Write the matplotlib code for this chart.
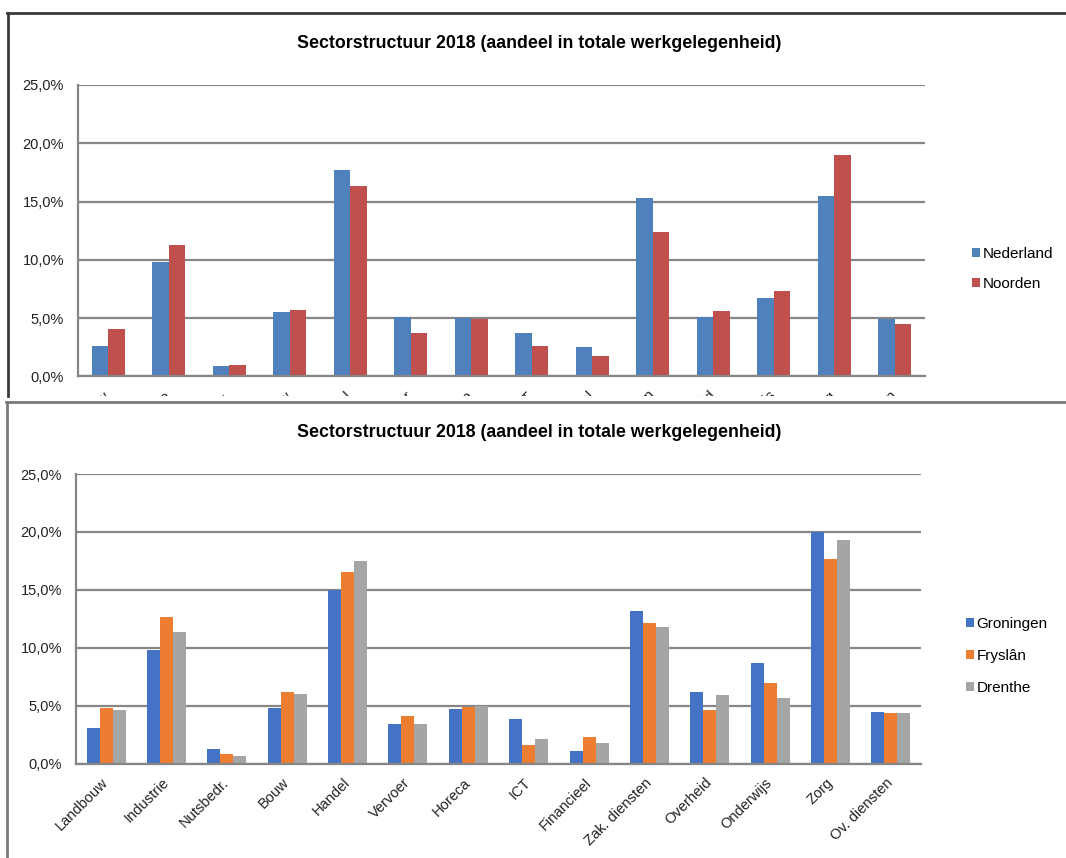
import numpy as np
import matplotlib
matplotlib.use("Agg")
import matplotlib.pyplot as plt
from matplotlib.lines import Line2D
from matplotlib.ticker import FuncFormatter, MultipleLocator
from matplotlib.transforms import Bbox, TransformedBbox

plt.rcParams['font.family'] = ['Liberation Sans', 'DejaVu Sans']

sectors = ["Landbouw", "Industrie", "Nutsbedr.", "Bouw", "Handel", "Vervoer",
           "Horeca", "ICT", "Financieel", "Zak. diensten", "Overheid",
           "Onderwijs", "Zorg", "Ov. diensten"]

# aandeel in totale werkgelegenheid (%)
nederland = [2.6, 9.8, 0.9, 5.5, 17.7, 5.1, 5.0, 3.7, 2.5, 15.3, 5.1, 6.7, 15.5, 4.9]
noorden = [4.1, 11.3, 1.0, 5.7, 16.3, 3.7, 4.9, 2.6, 1.8, 12.4, 5.6, 7.3, 19.0, 4.5]

groningen = [3.1, 9.8, 1.3, 4.8, 15.0, 3.4, 4.7, 3.9, 1.1, 13.2, 6.2, 8.7, 20.0, 4.5]
fryslan = [4.8, 12.7, 0.8, 6.2, 16.5, 4.1, 4.9, 1.6, 2.3, 12.1, 4.6, 7.0, 17.7, 4.4]
drenthe = [4.6, 11.4, 0.7, 6.0, 17.5, 3.4, 5.0, 2.1, 1.8, 11.8, 5.9, 5.7, 19.3, 4.4]

title = "Sectorstructuur 2018 (aandeel in totale werkgelegenheid)"

W, H = 1066, 858
fig = plt.figure(figsize=(W / 100, H / 100), dpi=100)


def px_axes(left, right, top, bottom):
    return fig.add_axes([left / W, 1 - bottom / H, (right - left) / W, (bottom - top) / H])


def pct(v, pos):
    return f"{v:.1f}%".replace(".", ",")


def style_axes(ax):
    ax.set_ylim(0, 25)
    ax.set_xlim(-0.5, len(sectors) - 0.5)
    ax.yaxis.set_major_locator(MultipleLocator(5))
    ax.yaxis.set_major_formatter(FuncFormatter(pct))
    ax.grid(axis="y", color="#868686", linewidth=1.6)
    ax.set_axisbelow(True)
    for s in ["top", "right"]:
        ax.spines[s].set_visible(False)
    for s in ["left", "bottom"]:
        ax.spines[s].set_color("#868686")
        ax.spines[s].set_linewidth(1.6)
    ax.tick_params(axis="both", length=0, labelsize=10.5, colors="#222222")
    ax.tick_params(axis="y", pad=10)
    ax.set_xticks(np.arange(len(sectors)))
    ax.set_xticklabels(sectors, rotation=45, ha="right", va="center",
                       rotation_mode="anchor")
    ax.tick_params(axis="x", pad=12)


def add_legend(ax, x_px, y_px, spacing):
    ax.legend(loc="center left", bbox_to_anchor=(x_px / W, 1 - y_px / H),
              bbox_transform=fig.transFigure, frameon=False, fontsize=11,
              handlelength=0.55, handleheight=0.55, handletextpad=0.15,
              labelspacing=spacing, borderaxespad=0, borderpad=0)


x = np.arange(len(sectors))

# bovenste grafiek: Nederland vs Noorden
ax1 = px_axes(78, 925, 85, 376.5)
bw = 0.275
ax1.bar(x - bw / 2, nederland, bw, color="#4f81bd", label="Nederland")
ax1.bar(x + bw / 2, noorden, bw, color="#c0504d", label="Noorden")
style_axes(ax1)
fig.text(539 / W, 1 - 44 / H, title, ha="center", va="center",
         fontsize=12.8, fontweight="bold")
add_legend(ax1, 972, 269, 1.05)

# labels van de bovenste grafiek vallen weg onder de rand
clip = TransformedBbox(Bbox([[0, 1 - 396 / H], [1, 1 - 376 / H]]), fig.transFigure)
for lab in ax1.get_xticklabels():
    lab.set_clip_on(True)
    lab.set_clip_box(clip)

# onderste grafiek: de drie noordelijke provincies
ax2 = px_axes(76, 921, 474, 763.7)
bw = 0.215
ax2.bar(x - bw, groningen, bw, color="#4472c4", label="Groningen")
ax2.bar(x, fryslan, bw, color="#ed7d31", label="Fryslân")
ax2.bar(x + bw, drenthe, bw, color="#a5a5a5", label="Drenthe")
style_axes(ax2)
fig.text(539 / W, 1 - 433 / H, title, ha="center", va="center",
         fontsize=12.8, fontweight="bold")
add_legend(ax2, 966, 656, 1.18)

# kaderlijnen
fig.add_artist(Line2D([7 / W, 1], [1 - 13 / H] * 2, color="#3a3a3a", linewidth=2))
fig.add_artist(Line2D([8 / W] * 2, [1 - 13 / H, 1 - 396 / H], color="#3a3a3a", linewidth=2))
fig.add_artist(Line2D([6 / W, 1], [1 - 402 / H] * 2, color="#7a7a7a", linewidth=2))
fig.add_artist(Line2D([7 / W] * 2, [1 - 402 / H, 0], color="#7a7a7a", linewidth=2))

fig.savefig("out.png", dpi=100)
